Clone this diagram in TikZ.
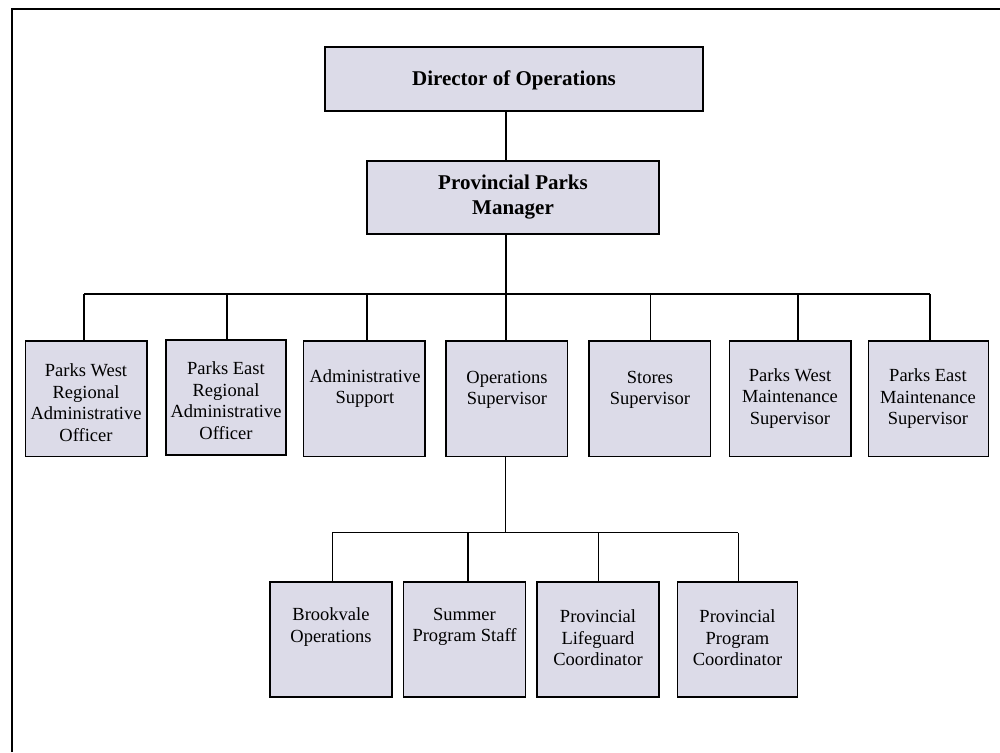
\documentclass[tikz,border=0pt]{standalone}
\usepackage{fontspec}
\setmainfont{Liberation Serif}
\definecolor{boxfill}{RGB}{220,219,232}
\begin{document}
\begin{tikzpicture}[x=1pt,y=-1pt,
  box/.style={draw=black, line width=1.6pt, fill=boxfill, inner sep=0pt, outer sep=0pt},
  txt/.style={align=center, inner sep=0pt, font=\fontsize{18.5}{21.5}\selectfont},
  btxt/.style={align=center, inner sep=0pt, font=\fontsize{21}{25}\selectfont\bfseries},
  conn/.style={line width=1.2pt}]
\useasboundingbox (0,0) rectangle (1000,752);
% outer frame (only left and top edges visible)
\draw[line width=2pt] (12,752) -- (12,9) -- (1000,9);

% top boxes
\node[box, minimum width=378pt, minimum height=64pt] (d) at (514,79) {};
\node[btxt] (dt) at (514,80) {Director of Operations};
\node[box, minimum width=292pt, minimum height=73pt] (m) at (513,197.5) {};
\node[btxt] (mt) at (513,197.5) {Provincial Parks\\Manager};

% row 1 boxes
\node[box, minimum width=121.2pt, minimum height=115.5pt] (b1) at (86.1,398.75) {};
\node[box, minimum width=120pt, minimum height=115pt] (b2) at (226,397.5) {};
\node[box, minimum width=121.5pt, minimum height=115.5pt] (b3) at (364.25,398.75) {};
\node[box, minimum width=121.6pt, minimum height=115.5pt] (b4) at (506.8,398.75) {};
\node[box, minimum width=121.5pt, minimum height=115.5pt] (b5) at (649.75,398.75) {};
\node[box, minimum width=121.4pt, minimum height=115.5pt] (b6) at (790.3,398.75) {};
\node[box, minimum width=120pt, minimum height=115.5pt] (b7) at (928.3,398.75) {};

\node[txt] (t1) at (86,402.5) {Parks West\\Regional\\Administrative\\Officer};
\node[txt] (t2) at (226,400.8) {Parks East\\Regional\\Administrative\\Officer};
\node[txt] (t3) at (365,388.5) {Administrative\\Support};
\node[txt] (t4) at (507,390) {Operations\\Supervisor};
\node[txt] (t5) at (650,390) {Stores\\Supervisor};
\node[txt] (t6) at (790,398.3) {Parks West\\Maintenance\\Supervisor};
\node[txt] (t7) at (928,398.7) {Parks East\\Maintenance\\Supervisor};

% row 2 boxes
\node[box, minimum width=122pt, minimum height=115pt] (c1) at (331,639.2) {};
\node[box, minimum width=122pt, minimum height=115pt] (c2) at (464.5,639.2) {};
\node[box, minimum width=121.7pt, minimum height=115pt] (c3) at (597.85,639.2) {};
\node[box, minimum width=119.8pt, minimum height=115pt] (c4) at (737.4,639.2) {};

\node[txt] (s1) at (331,627) {Brookvale\\Operations};
\node[txt] (s2) at (464.5,627) {Summer\\Program Staff};
\node[txt] (s3) at (598,638) {Provincial\\Lifeguard\\Coordinator};
\node[txt] (s4) at (737.5,638) {Provincial\\Program\\Coordinator};

% junction coordinates
\coordinate (jm) at (506,294);
\coordinate (j1) at (84,294);
\coordinate (j2) at (227,294);
\coordinate (j3) at (367,294);
\coordinate (j4) at (506,294);
\coordinate (j5) at (650.5,294);
\coordinate (j6) at (798,294);
\coordinate (j7) at (930,294);

\coordinate (km) at (505.6,532.7);
\coordinate (k1) at (332.3,532.7);
\coordinate (k2) at (468,532.7);
\coordinate (k3) at (598.6,532.7);
\coordinate (k4) at (738.3,532.7);

% connectors
\draw[conn] (d.south -| jm) -- (m.north -| jm);
\draw[conn] (m.south -| jm) -- (jm);
\draw[conn] (j1) -- (j7);
\foreach \i in {1,...,7} {\draw[conn] (j\i) -- (b\i.north -| j\i);}
\draw[conn] (b4.south -| km) -- (km);
\draw[conn] (k1) -- (k4);
\foreach \i in {1,...,4} {\draw[conn] (k\i) -- (c\i.north -| k\i);}
\end{tikzpicture}
\end{document}
